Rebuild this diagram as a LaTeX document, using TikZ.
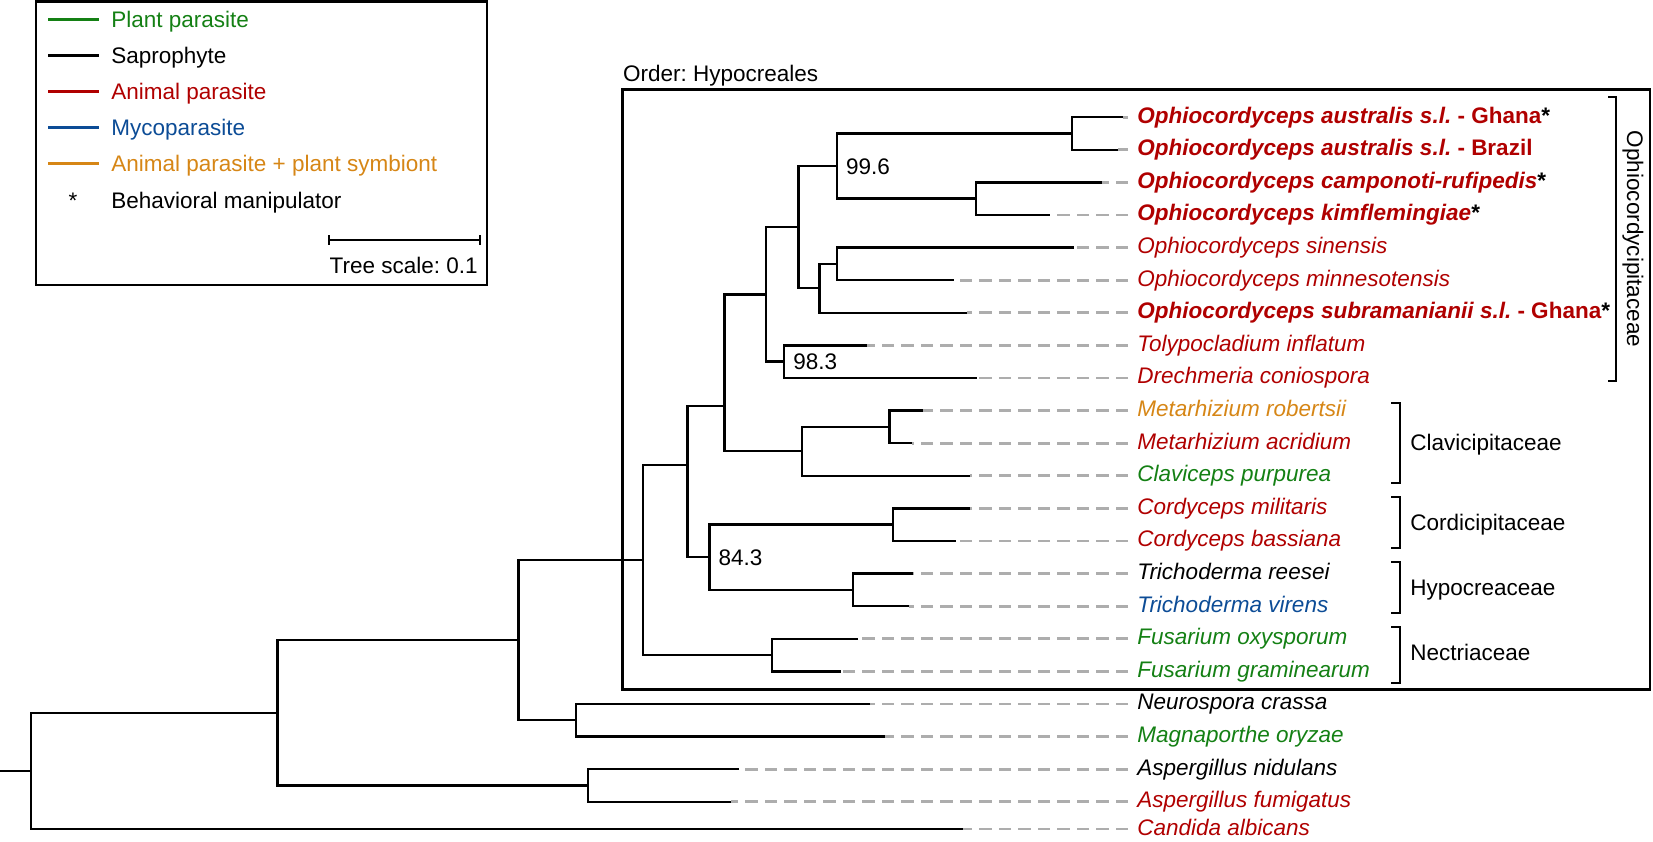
\documentclass[tikz,border=0pt]{standalone}
\usepackage{fontspec}
\setmainfont{Liberation Sans}
\newcommand{\figfont}{\fontsize{11.25}{13.5}\selectfont\frenchspacing}
\definecolor{plantcol}{RGB}{20,128,20}
\definecolor{animalcol}{RGB}{176,0,0}
\definecolor{mycocol}{RGB}{12,76,150}
\definecolor{symbcol}{RGB}{214,134,22}
\tikzset{
  branch/.style={line width=1.2pt},
  leader/.style={draw=black!32, line width=1.4pt, dash pattern=on 6.25pt off 3.5pt},
  frame/.style={line width=1.35pt},
  swatch/.style={line width=1.5pt},
  taxon/.style={anchor=west, inner xsep=4.5pt, inner ysep=0pt, text height=6pt, text depth=0pt, font=\figfont\itshape},
  manip/.style={taxon, font=\figfont\bfseries\itshape},
  support/.style={anchor=west, inner sep=0pt, text height=8pt, text depth=0pt, font=\figfont},
  plain/.style={anchor=west, inner sep=0pt, text height=8pt, text depth=0pt, font=\figfont},
}

\begin{document}
\begin{tikzpicture}[x=0.5pt, y=-0.5pt]
\useasboundingbox (0,0) rectangle (1653,841);

% Legend
\draw[frame] (36,1.5) rectangle (487,285);
\node[plain, plantcol] (leg1) at (111,19) {Plant parasite};
\draw[swatch, plantcol] (48,19) -- (99,19);
\node[plain] (leg2) at (111,55.2) {Saprophyte};
\draw[swatch] (48,55.2) -- (99,55.2);
\node[plain, animalcol] (leg3) at (111,91.4) {Animal parasite};
\draw[swatch, animalcol] (48,91.4) -- (99,91.4);
\node[plain, mycocol] (leg4) at (111,127.6) {Mycoparasite};
\draw[swatch, mycocol] (48,127.6) -- (99,127.6);
\node[plain, symbcol] (leg5) at (111,163.8) {Animal parasite + plant symbiont};
\draw[swatch, symbcol] (48,163.8) -- (99,163.8);
\node[plain, anchor=center] (leg6star) at (73,200) {*};
\node[plain] (leg6) at (111,200) {Behavioral manipulator};

% Scale bar
\draw[branch] (329,240) -- (480,240);
\draw[branch] (329,235) -- (329,245);
\draw[branch] (480,235) -- (480,245);
\node[plain, anchor=east] (scale) at (478,265) {Tree scale: 0.1};

% Order box
\node[plain] (order) at (622.7,73.3) {Order: Hypocreales};
\draw[frame] (622.7,89.3) rectangle (1650,689.3);

% Tips and labels
\coordinate (t1) at (1123,117.1);
\node[manip, animalcol] (l1) at (1128,117.1) {Ophiocordyceps australis s.l.\ {\upshape- Ghana}\textcolor{black}{\upshape*}};
\coordinate (t2) at (1118,149.7);
\node[manip, animalcol] (l2) at (1128,149.7) {Ophiocordyceps australis s.l.\ {\upshape- Brazil}};
\coordinate (t3) at (1102,182.3);
\node[manip, animalcol] (l3) at (1128,182.3) {Ophiocordyceps camponoti-rufipedis\textcolor{black}{\upshape*}};
\coordinate (t4) at (1050,214.9);
\node[manip, animalcol] (l4) at (1128,214.9) {Ophiocordyceps kimflemingiae\textcolor{black}{\upshape*}};
\coordinate (t5) at (1074,247.5);
\node[taxon, animalcol] (l5) at (1128,247.5) {Ophiocordyceps sinensis};
\coordinate (t6) at (954,280.1);
\node[taxon, animalcol] (l6) at (1128,280.1) {Ophiocordyceps minnesotensis};
\coordinate (t7) at (967,312.7);
\node[manip, animalcol] (l7) at (1128,312.7) {Ophiocordyceps subramanianii s.l.\ {\upshape- Ghana}\textcolor{black}{\upshape*}};
\coordinate (t8) at (867,345.3);
\node[taxon, animalcol] (l8) at (1128,345.3) {Tolypocladium inflatum};
\coordinate (t9) at (977,377.9);
\node[taxon, animalcol] (l9) at (1128,377.9) {Drechmeria coniospora};
\coordinate (t10) at (923,410.5);
\node[taxon, symbcol] (l10) at (1128,410.5) {Metarhizium robertsii};
\coordinate (t11) at (912,443.1);
\node[taxon, animalcol] (l11) at (1128,443.1) {Metarhizium acridium};
\coordinate (t12) at (970,475.7);
\node[taxon, plantcol] (l12) at (1128,475.7) {Claviceps purpurea};
\coordinate (t13) at (970,508.3);
\node[taxon, animalcol] (l13) at (1128,508.3) {Cordyceps militaris};
\coordinate (t14) at (956,540.9);
\node[taxon, animalcol] (l14) at (1128,540.9) {Cordyceps bassiana};
\coordinate (t15) at (913,573.5);
\node[taxon] (l15) at (1128,573.5) {Trichoderma reesei};
\coordinate (t16) at (909,606.1);
\node[taxon, mycocol] (l16) at (1128,606.1) {Trichoderma virens};
\coordinate (t17) at (858,638.7);
\node[taxon, plantcol] (l17) at (1128,638.7) {Fusarium oxysporum};
\coordinate (t18) at (841,671.3);
\node[taxon, plantcol] (l18) at (1128,671.3) {Fusarium graminearum};
\coordinate (t19) at (870,703.9);
\node[taxon] (l19) at (1128,703.9) {Neurospora crassa};
\coordinate (t20) at (885,736.5);
\node[taxon, plantcol] (l20) at (1128,736.5) {Magnaporthe oryzae};
\coordinate (t21) at (739,769.1);
\node[taxon] (l21) at (1128,769.1) {Aspergillus nidulans};
\coordinate (t22) at (731,801.7);
\node[taxon, animalcol] (l22) at (1128,801.7) {Aspergillus fumigatus};
\coordinate (t23) at (963,829);
\node[taxon, animalcol] (l23) at (1128,829) {Candida albicans};

% Leaders from labels back to tips
\draw[leader] (l1.west) -- (t1);
\draw[leader] (l2.west) -- (t2);
\draw[leader] (l3.west) -- (t3);
\draw[leader] (l4.west) -- (t4);
\draw[leader] (l5.west) -- (t5);
\draw[leader] (l6.west) -- (t6);
\draw[leader] (l7.west) -- (t7);
\draw[leader] (l8.west) -- (t8);
\draw[leader] (l9.west) -- (t9);
\draw[leader] (l10.west) -- (t10);
\draw[leader] (l11.west) -- (t11);
\draw[leader] (l12.west) -- (t12);
\draw[leader] (l13.west) -- (t13);
\draw[leader] (l14.west) -- (t14);
\draw[leader] (l15.west) -- (t15);
\draw[leader] (l16.west) -- (t16);
\draw[leader] (l17.west) -- (t17);
\draw[leader] (l18.west) -- (t18);
\draw[leader] (l19.west) -- (t19);
\draw[leader] (l20.west) -- (t20);
\draw[leader] (l21.west) -- (t21);
\draw[leader] (l22.west) -- (t22);
\draw[leader] (l23.west) -- (t23);

% Inner nodes
\coordinate (nAus) at (1071.7,133.4);
\coordinate (nCamp) at (976,198.6);
\coordinate (n996) at (836.7,166.0);
\coordinate (nSin) at (836.7,263.8);
\coordinate (nSub) at (819.3,288.25);
\coordinate (nOph) at (798.3,227.1);
\coordinate (nTol) at (784,361.6);
\coordinate (nOphio) at (766,294.4);
\coordinate (nMet) at (889.3,426.8);
\coordinate (nClav) at (801.7,451.2);
\coordinate (nUpper) at (724.3,405.9);
\coordinate (nCord) at (892.7,524.6);
\coordinate (nTri) at (852.7,589.8);
\coordinate (n843) at (709.3,557.2);
\coordinate (nCore) at (687.3,465.0);
\coordinate (nFus) at (771.7,655.0);
\coordinate (nHypo) at (642.7,560.0);
\coordinate (nNeu) at (575.8,720.2);
\coordinate (nSord) at (518.5,640.1);
\coordinate (nAsp) at (588,785.4);
\coordinate (nPezi) at (277.5,712.8);
\coordinate (root) at (31,770.9);
\coordinate (stub) at (0,770.9);

% Branches
\draw[branch] (t1) -| (nAus) |- (t2);
\draw[branch] (t3) -| (nCamp) |- (t4);
\draw[branch] (nAus) -| (n996) |- (nCamp);
\draw[branch] (t5) -| (nSin) |- (t6);
\draw[branch] (nSin) -| (nSub) |- (t7);
\draw[branch] (n996) -| (nOph) |- (nSub);
\draw[branch] (t8) -| (nTol) |- (t9);
\draw[branch] (nOph) -| (nOphio) |- (nTol);
\draw[branch] (t10) -| (nMet) |- (t11);
\draw[branch] (nMet) -| (nClav) |- (t12);
\draw[branch] (nOphio) -| (nUpper) |- (nClav);
\draw[branch] (t13) -| (nCord) |- (t14);
\draw[branch] (t15) -| (nTri) |- (t16);
\draw[branch] (nCord) -| (n843) |- (nTri);
\draw[branch] (nUpper) -| (nCore) |- (n843);
\draw[branch] (t17) -| (nFus) |- (t18);
\draw[branch] (nCore) -| (nHypo) |- (nFus);
\draw[branch] (t19) -| (nNeu) |- (t20);
\draw[branch] (nHypo) -| (nSord) |- (nNeu);
\draw[branch] (t21) -| (nAsp) |- (t22);
\draw[branch] (nSord) -| (nPezi) |- (nAsp);
\draw[branch] (nPezi) -| (root) |- (t23);
\draw[branch] (stub) -- (root);

% Support values
\node[support] (b996) at ([xshift=4.5pt]n996) {99.6};
\node[support] (b983) at ([xshift=4.5pt]nTol) {98.3};
\node[support] (b843) at ([xshift=4.5pt]n843) {84.3};

% Families
\node[plain, anchor=center, rotate=-90] (fam1) at (1635,239) {Ophiocordycipitaceae};
\draw[frame] (1608,97) -- (1616,97) -- (1616,381) -- (1608,381);
\node[plain] (fam2) at (1410,442) {Clavicipitaceae};
\draw[frame] (1391,403) -- (1400,403) -- (1400,483) -- (1391,483);
\node[plain] (fam3) at (1410,522) {Cordicipitaceae};
\draw[frame] (1391,497) -- (1400,497) -- (1400,548) -- (1391,548);
\node[plain] (fam4) at (1410,587) {Hypocreaceae};
\draw[frame] (1391,562) -- (1400,562) -- (1400,613) -- (1391,613);
\node[plain] (fam5) at (1410,652) {Nectriaceae};
\draw[frame] (1391,627) -- (1400,627) -- (1400,683) -- (1391,683);
\end{tikzpicture}
\end{document}
